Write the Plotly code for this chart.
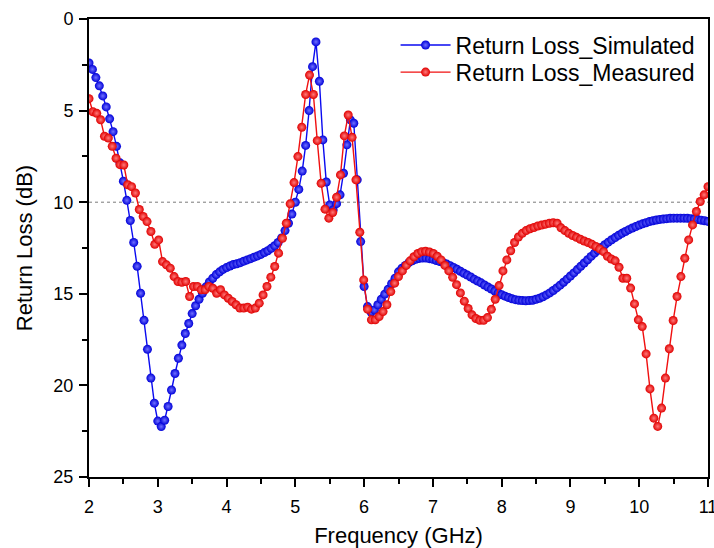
import numpy as np
import plotly.graph_objects as go

# Simulated return loss: 2.00 .. 11.00 GHz, step 0.05 GHz (181 points)
freq_sim = np.round(np.arange(181) * 0.05 + 2.0, 4)
rl_sim = [
    2.4, 2.75, 3.2, 3.65, 4.2, 4.8, 5.45, 6.15, 6.95, 7.85,
    8.85, 9.9, 11.0, 12.2, 13.5, 14.97, 16.45, 18.03, 19.6, 20.97,
    21.95, 22.25, 21.9, 21.15, 20.25, 19.35, 18.52, 17.8, 17.17, 16.62,
    16.08, 15.65, 15.3, 14.97, 14.62, 14.35, 14.15, 13.95, 13.8, 13.67,
    13.57, 13.48, 13.4, 13.36, 13.3, 13.22, 13.15, 13.08, 13.0, 12.93,
    12.85, 12.75, 12.65, 12.52, 12.38, 12.2, 11.95, 11.55, 11.15, 10.65,
    10.0, 9.3, 8.3, 6.9, 5.0, 2.6, 1.25, 3.4, 6.6, 8.9,
    10.15, 10.42, 10.08, 9.6, 8.42, 6.87, 5.51, 5.69, 8.78, 12.15,
    14.6, 15.7, 16.0, 15.88, 15.6, 15.3, 15.02, 14.75, 14.45, 14.15,
    13.8, 13.6, 13.45, 13.3, 13.2, 13.12, 13.07, 13.05, 13.05, 13.08,
    13.12, 13.18, 13.24, 13.3, 13.38, 13.47, 13.56, 13.66, 13.77, 13.88,
    13.98, 14.08, 14.2, 14.3, 14.4, 14.52, 14.63, 14.74, 14.85, 14.95,
    15.05, 15.13, 15.2, 15.27, 15.32, 15.35, 15.37, 15.38, 15.37, 15.35,
    15.3, 15.24, 15.16, 15.06, 14.95, 14.82, 14.68, 14.53, 14.37, 14.2,
    14.03, 13.86, 13.68, 13.5, 13.32, 13.14, 12.96, 12.78, 12.62, 12.47,
    12.32, 12.18, 12.05, 11.93, 11.81, 11.7, 11.6, 11.5, 11.41, 11.33,
    11.25, 11.18, 11.12, 11.06, 11.01, 10.97, 10.94, 10.92, 10.9, 10.88,
    10.87, 10.87, 10.87, 10.87, 10.88, 10.9, 10.92, 10.95, 10.98, 11.01,
    11.05,
]

# Measured return loss: 2.00 .. 11.00 GHz, 161 points
freq_meas = np.round(np.linspace(2.0, 11.0, 161), 5)
rl_meas = [
    4.35, 5.06, 5.15, 5.5, 6.4, 6.5, 6.95, 7.6, 7.95, 7.97,
    9.05, 9.15, 9.5, 10.4, 10.78, 11.06, 11.6, 12.3, 12.06, 13.24,
    13.42, 13.6, 14.06, 14.33, 14.37, 14.33, 15.15, 14.6, 14.6, 14.78,
    14.78, 14.6, 14.7, 14.97, 14.78, 15.06, 15.24, 15.42, 15.6, 15.78,
    15.78, 15.73, 15.84, 15.78, 15.51, 15.06, 14.6, 14.09, 13.51, 12.78,
    11.97, 11.15, 10.09, 8.93, 7.51, 5.91, 4.12, 3.06, 4.12, 6.64,
    8.97, 10.38, 10.87, 10.56, 9.73, 8.51, 6.38, 5.24, 6.46, 8.78,
    11.64, 14.24, 15.84, 16.42, 16.42, 16.24, 15.97, 15.6, 14.88, 14.42,
    14.06, 13.75, 13.45, 13.2, 12.98, 12.8, 12.7, 12.68, 12.72, 12.8,
    12.95, 13.15, 13.45, 13.75, 14.1, 14.5, 14.95, 15.4, 15.8, 16.15,
    16.35, 16.45, 16.45, 16.3, 15.85, 15.3, 14.55, 13.75, 13.15, 12.65,
    12.2, 11.9, 11.7, 11.55, 11.45, 11.38, 11.3, 11.25, 11.2, 11.15,
    11.12, 11.15, 11.4, 11.55, 11.7, 11.82, 11.92, 12.02, 12.12, 12.2,
    12.3, 12.42, 12.55, 12.7, 12.95, 13.1, 13.2, 13.55, 14.15, 14.15,
    14.69, 15.55, 16.42, 16.79, 18.28, 20.19, 21.79, 22.24, 21.24, 19.6,
    18.0, 16.46, 15.15, 14.06, 13.06, 12.06, 11.24, 10.51, 9.96, 9.6,
    9.15,
]

x_ticks = [2, 3, 4, 5, 6, 7, 8, 9, 10, 11]
y_ticks = [0, 5, 10, 15, 20, 25]
threshold = 10

FONT = "Arial, Liberation Sans, sans-serif"

fig = go.Figure()
fig.add_trace(go.Scatter(
    x=freq_sim, y=rl_sim, mode="lines+markers", name="Return Loss_Simulated",
    legend="legend",
    line=dict(color="#0a0af0", width=1.4),
    marker=dict(size=9, color="#0000d8", line=dict(width=0),
                gradient=dict(type="radial", color="#7070ff")),
))
fig.add_trace(go.Scatter(
    x=freq_meas, y=rl_meas, mode="lines+markers", name="Return Loss_Measured",
    legend="legend2",
    line=dict(color="#f01010", width=1.4),
    marker=dict(size=9, color="#e00000", line=dict(width=0),
                gradient=dict(type="radial", color="#ff7a7a")),
))

fig.add_shape(type="line", xref="x", yref="y", x0=x_ticks[0], x1=x_ticks[-1],
              y0=threshold, y1=threshold, layer="below",
              line=dict(color="#7a7a7a", width=1, dash="3px,3px"))

axis_common = dict(
    showgrid=False, zeroline=False, showline=True, linewidth=2, linecolor="black",
    mirror=True, ticks="outside", ticklen=8, tickwidth=2, tickcolor="black",
    tickfont=dict(family=FONT, size=18, color="black"),
    automargin=False, ticklabeloverflow="allow",
)

legend_common = dict(x=0.988, xanchor="right", yanchor="middle",
                     bgcolor="rgba(0,0,0,0)", borderwidth=0,
                     font=dict(family=FONT, size=23, color="black"),
                     itemwidth=50)

fig.update_layout(
    width=714, height=548,
    margin=dict(l=89, r=6, t=19, b=71),
    paper_bgcolor="white", plot_bgcolor="white",
    font=dict(family=FONT, color="black"),
    showlegend=True,
    legend=dict(y=0.943, **legend_common),
    legend2=dict(y=0.884, **legend_common),
    xaxis=dict(range=[x_ticks[0], x_ticks[-1]], tickvals=x_ticks,
               ticklabelstandoff=4,
               minor=dict(dtick=0.5, tick0=2, ticks="outside", ticklen=5,
                          tickwidth=1.5, tickcolor="black"),
               title=dict(text="Frequency (GHz)", standoff=18,
                          font=dict(family=FONT, size=22, color="black")),
               **axis_common),
    yaxis=dict(range=[y_ticks[-1], y_ticks[0]], tickvals=y_ticks,
               ticklabelstandoff=2,
               minor=dict(dtick=2.5, tick0=0, ticks="outside", ticklen=5,
                          tickwidth=1.5, tickcolor="black"),
               title=dict(text="Return Loss (dB)", standoff=15,
                          font=dict(family=FONT, size=22, color="black")),
               **axis_common),
)

fig.write_html("out.html", config={"displayModeBar": False},
               post_script="document.body.style.margin='0';")
